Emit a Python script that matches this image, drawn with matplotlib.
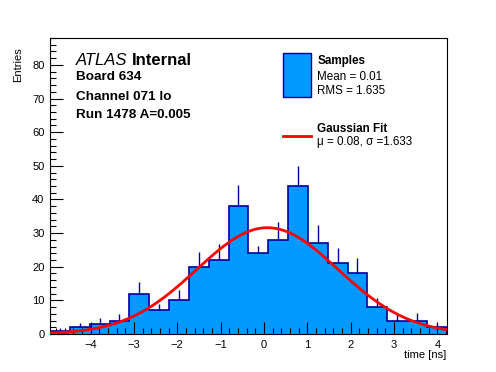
import numpy as np
import matplotlib
matplotlib.use('Agg')
import matplotlib.pyplot as plt
from matplotlib.ticker import MultipleLocator

plt.rcParams['font.family'] = ['Liberation Sans', 'DejaVu Sans']

# histogram
x_lo, x_hi = -4.936, 4.216
counts = [1, 2, 3, 4, 12, 7, 10, 20, 22, 38, 24, 28, 44, 27, 21, 18, 8, 4, 4, 2]
err_top = [1.9, 3.3, 4.85, 5.9, 15.6, 8.8, 13.1, 24.5, 26.8, 44.3,
           26.2, 33.4, 49.8, 32.4, 25.5, 22.5, 10.6, 6.2, 6.2, 3.4]

# gaussian fit
fit_amp = 31.6
fit_mu = 0.08
fit_sigma = 1.633

fill_c = '#0099ff'
edge_c = '#000099'

fig = plt.figure(figsize=(4.96, 3.72), dpi=100)
ax = fig.add_axes([0.1008, 0.1022, 0.7998, 0.7965])

edges = np.linspace(x_lo, x_hi, len(counts) + 1)
centers = 0.5 * (edges[:-1] + edges[1:])
ax.stairs(counts, edges, fill=True, color=fill_c, zorder=1)
ax.stairs(counts, edges, color=edge_c, lw=1.2, zorder=2)
ax.vlines(centers, counts, err_top, color=edge_c, lw=1.0, zorder=2)

xs = np.linspace(x_lo, x_hi, 400)
ax.plot(xs, fit_amp * np.exp(-0.5 * ((xs - fit_mu) / fit_sigma) ** 2),
        color='red', lw=2, zorder=3)

ax.set_xlim(x_lo, x_hi)
ax.set_ylim(0, 88.1)
ax.xaxis.set_major_locator(MultipleLocator(1))
ax.xaxis.set_minor_locator(MultipleLocator(0.2))
ax.yaxis.set_major_locator(MultipleLocator(10))
ax.yaxis.set_minor_locator(MultipleLocator(2))
ax.tick_params(which='both', direction='in', top=False, right=False,
               labelsize=8, width=0.8)
ax.tick_params(which='major', length=9, pad=4)
ax.tick_params(which='minor', length=4.5)
for s in ax.spines.values():
    s.set_linewidth(0.8)
ax.set_xticklabels([f'\u2212{abs(int(t))}' if t < 0 else f'{int(t)}' for t in ax.get_xticks()])

fig.text(0.900, 0.046, 'time [ns]', ha='right', va='center', fontsize=8)
fig.text(0.037, 0.873, 'Entries', rotation=90, ha='center', va='top', fontsize=8)

# labels
fig.text(0.153, 0.838, 'ATLAS', style='italic', fontsize=12, va='center')
fig.text(0.265, 0.838, 'Internal', weight='bold', fontsize=12, va='center')
fig.text(0.153, 0.792, 'Board 634', weight='bold', fontsize=9.7, va='center')
fig.text(0.153, 0.740, 'Channel 071 lo', weight='bold', fontsize=9.7, va='center')
fig.text(0.153, 0.690, 'Run 1478 A=0.005', weight='bold', fontsize=9.7, va='center')

# legend
fig.patches.append(plt.Rectangle((0.571, 0.740), 0.057, 0.117, transform=fig.transFigure,
                                 facecolor=fill_c, edgecolor=edge_c, lw=1))
fig.text(0.640, 0.835, 'Samples', weight='bold', fontsize=8.4, va='center')
fig.text(0.640, 0.793, 'Mean = 0.01', fontsize=8.4, va='center')
fig.text(0.640, 0.756, 'RMS = 1.635', fontsize=8.4, va='center')
fig.lines.append(plt.Line2D([0.571, 0.628], [0.634, 0.634], transform=fig.transFigure,
                            color='red', lw=2))
fig.text(0.640, 0.652, 'Gaussian Fit', weight='bold', fontsize=8.4, va='center')
fig.text(0.640, 0.617, '\u03bc = 0.08, \u03c3 =1.633', fontsize=8.4, va='center')

fig.savefig('out.png', dpi=100)
